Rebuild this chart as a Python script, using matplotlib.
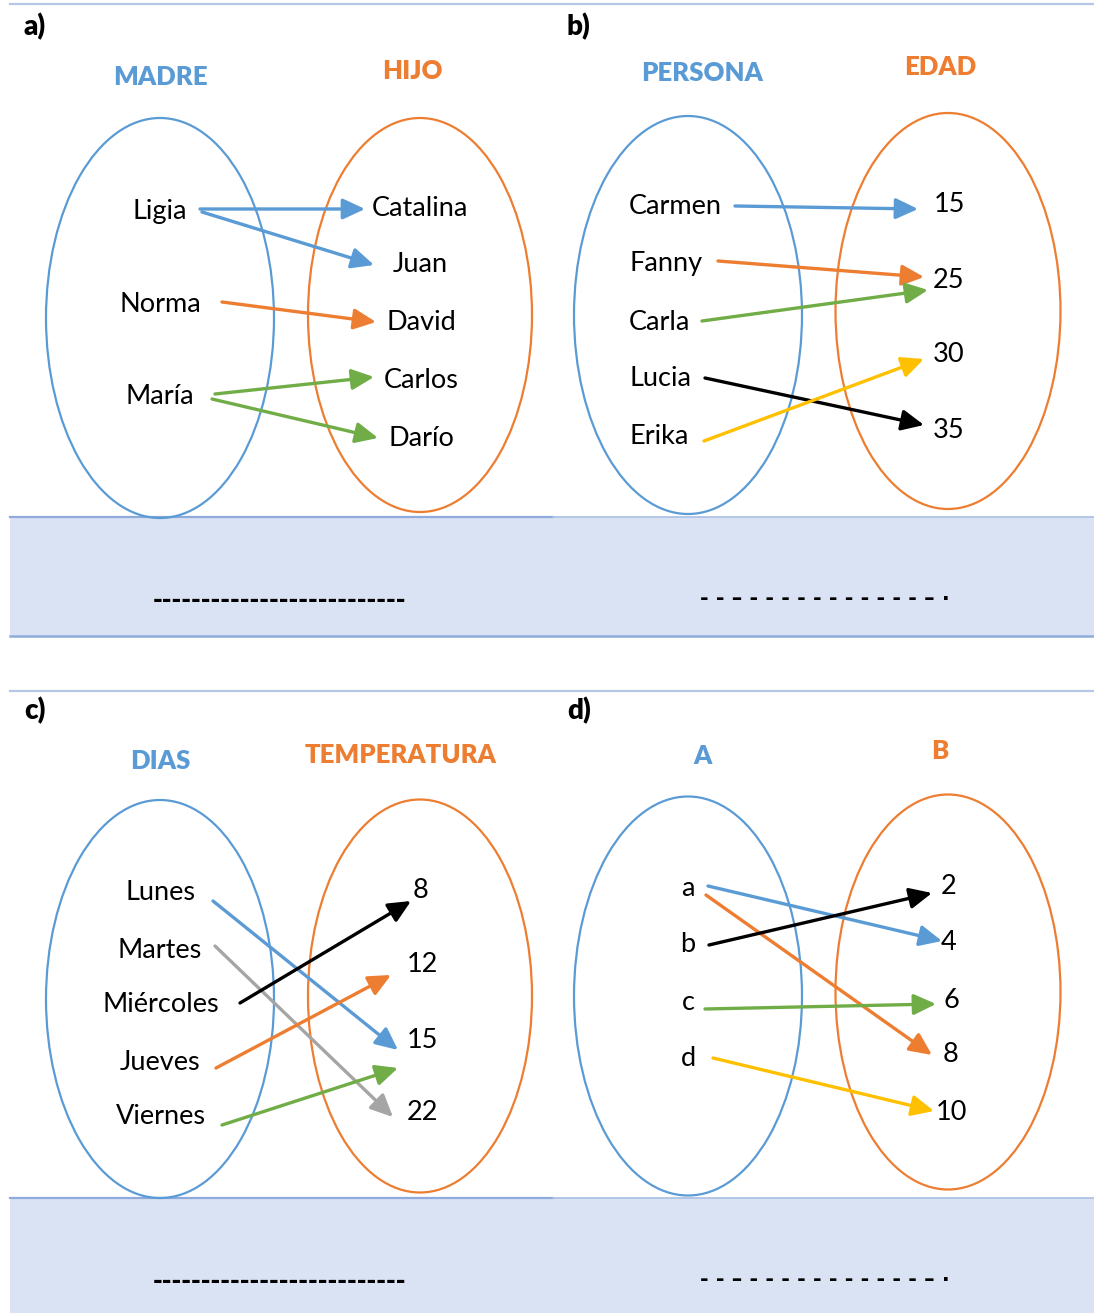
import matplotlib.pyplot as plt
from matplotlib.patches import Ellipse, Rectangle

plt.rcParams['font.family'] = ['Lato', 'DejaVu Sans']

BLUE = '#5B9BD5'
ORANGE = '#ED7D31'
GREEN = '#70AD47'
YELLOW = '#FFC000'
GRAY = '#A5A5A5'
BLACK = '#000000'

# ---- data -------------------------------------------------------------
panel_tags = ['a)', 'b)', 'c)', 'd)']
left_titles = ['MADRE', 'PERSONA', 'DIAS', 'A']
right_titles = ['HIJO', 'EDAD', 'TEMPERATURA', 'B']

left_a = ['Ligia', 'Norma', 'María']
right_a = ['Catalina', 'Juan', 'David', 'Carlos', 'Darío']
map_a = [(0, 0), (0, 1), (1, 2), (2, 3), (2, 4)]
col_a = [BLUE, BLUE, ORANGE, GREEN, GREEN]

left_b = ['Carmen', 'Fanny', 'Carla', 'Lucia', 'Erika']
right_b = ['15', '25', '30', '35']
map_b = [(0, 0), (1, 1), (2, 1), (3, 3), (4, 2)]
col_b = [BLUE, ORANGE, GREEN, BLACK, YELLOW]

left_c = ['Lunes', 'Martes', 'Miércoles', 'Jueves', 'Viernes']
right_c = ['8', '12', '15', '22']
map_c = [(0, 2), (1, 3), (2, 0), (3, 1), (4, 2)]
col_c = [BLUE, GRAY, BLACK, ORANGE, GREEN]

left_d = ['a', 'b', 'c', 'd']
right_d = ['2', '4', '6', '8', '10']
map_d = [(0, 1), (0, 3), (1, 0), (2, 2), (3, 4)]
col_d = [BLUE, ORANGE, BLACK, GREEN, YELLOW]

# ---- layout (pixels) --------------------------------------------------
# label positions
lpos_a = [(160, 211), (160, 304), (160, 397)]
rpos_a = [(420, 209), (420, 265), (421, 323), (421, 380), (421, 438)]
lpos_b = [(629, 207), (629, 264), (629, 322), (629, 379), (629, 436)]
rpos_b = [(949, 204), (949, 280), (949, 355), (949, 430)]
lpos_c = [(160, 893), (160, 950), (161, 1005), (160, 1062), (161, 1117)]
rpos_c = [(420, 890), (422, 965), (422, 1041), (422, 1113)]
lpos_d = [(688, 888), (688, 945), (688, 1002), (688, 1058)]
rpos_d = [(949, 886), (949, 943), (951, 1000), (951, 1055), (951, 1113)]

# arrow tails / heads
arr_a = [((200, 209), (365, 209)), ((202, 212), (374, 265)), ((222, 302), (376, 322)),
         ((215, 394), (374, 377)), ((212, 399), (378, 438))]
arr_b = [((735, 206), (918, 209)), ((718, 261), (924, 277)), ((702, 321), (928, 290)),
         ((705, 378), (924, 425)), ((704, 441), (924, 359))]
arr_c = [((213, 901), (398, 1050)), ((215, 946), (393, 1117)), ((240, 1003), (411, 901)),
         ((216, 1068), (391, 975)), ((222, 1125), (398, 1068))]
arr_d = [((708, 886), (942, 941)), ((706, 895), (932, 1055)), ((709, 945), (932, 893)),
         ((705, 1009), (936, 1004)), ((713, 1058), (934, 1111))]

panels = [
    dict(tag=(24, 27), lt=(160, 77), rt=(412, 71), le=(160, 318, 228, 400), re=(420, 315, 224, 394),
         left=left_a, right=right_a, lpos=lpos_a, rpos=rpos_a, lha='center', arr=arr_a, cols=col_a),
    dict(tag=(567, 27), lt=(702, 73), rt=(940, 67), le=(688, 315, 228, 398), re=(948, 311, 225, 396),
         left=left_b, right=right_b, lpos=lpos_b, rpos=rpos_b, lha='left', arr=arr_b, cols=col_b),
    dict(tag=(24, 711), lt=(160, 761), rt=(401, 755), le=(160, 999, 228, 398), re=(420, 996, 224, 393),
         left=left_c, right=right_c, lpos=lpos_c, rpos=rpos_c, lha='center', arr=arr_c, cols=col_c),
    dict(tag=(567, 711), lt=(702, 756), rt=(940, 751), le=(688, 996, 228, 399), re=(948, 992, 225, 395),
         left=left_d, right=right_d, lpos=lpos_d, rpos=rpos_d, lha='center', arr=arr_d, cols=col_d),
]

W, H = 1094, 1313
fig = plt.figure(figsize=(W / 100, H / 100), dpi=100)
ax = fig.add_axes([0, 0, 1, 1])
ax.set_xlim(0, W)
ax.set_ylim(H, 0)
ax.axis('off')

# separator lines and answer bands
ax.plot([10, W], [4, 4], color='#B4C7E7', lw=1.6)
ax.plot([10, W], [691, 691], color='#B4C7E7', lw=1.6)
for top, bottom in [(517, 636), (1198, 1320)]:
    ax.add_patch(Rectangle((10, top), W - 10, bottom - top, facecolor='#DAE3F3', edgecolor='none', zorder=0))
    ax.plot([10, 553], [top, top], color='#8FAADC', lw=1.6, zorder=1)
    ax.plot([553, W], [top, top], color='#A9BFE3', lw=1.2, zorder=1)
    ax.plot([10, W], [bottom, bottom], color='#8FAADC', lw=1.8, zorder=1)
    ax.text(280, top + 83, '-' * 26, fontsize=17, fontweight='bold', family='DejaVu Sans',
            ha='center', va='center', color=BLACK)
    ax.text(825, top + 82, '- - – - - - - - - - - - - - – ·', fontsize=15, fontweight='bold',
            family='DejaVu Sans', ha='center', va='center', color=BLACK)

for i, p in enumerate(panels):
    ax.text(p['tag'][0], p['tag'][1], panel_tags[i], fontsize=20,
            fontweight='heavy', ha='left', va='center', color=BLACK)
    ax.text(p['lt'][0], p['lt'][1], left_titles[i], fontsize=18.5, fontweight='heavy',
            ha='center', va='center', color=BLUE)
    ax.text(p['rt'][0], p['rt'][1], right_titles[i], fontsize=18.5, fontweight='heavy',
            ha='center', va='center', color=ORANGE)
    cx, cy, w, h = p['le']
    ax.add_patch(Ellipse((cx, cy), w, h, facecolor='none', edgecolor=BLUE, lw=1.6, zorder=2))
    cx, cy, w, h = p['re']
    ax.add_patch(Ellipse((cx, cy), w, h, facecolor='none', edgecolor=ORANGE, lw=1.6, zorder=2))
    for name, (x, y) in zip(p['left'], p['lpos']):
        ax.text(x, y, name, fontsize=19.5, ha=p['lha'], va='center', color=BLACK, zorder=4)
    for name, (x, y) in zip(p['right'], p['rpos']):
        ax.text(x, y, name, fontsize=19.5, ha='center', va='center', color=BLACK, zorder=4)
    for (tail, head), c in zip(p['arr'], p['cols']):
        ax.annotate('', xy=head, xytext=tail,
                    arrowprops=dict(arrowstyle='-|>,head_length=0.9,head_width=0.42', color=c,
                                    lw=2.4, shrinkA=0, shrinkB=0, mutation_scale=15),
                    zorder=3)

fig.savefig('out.png', dpi=100)
